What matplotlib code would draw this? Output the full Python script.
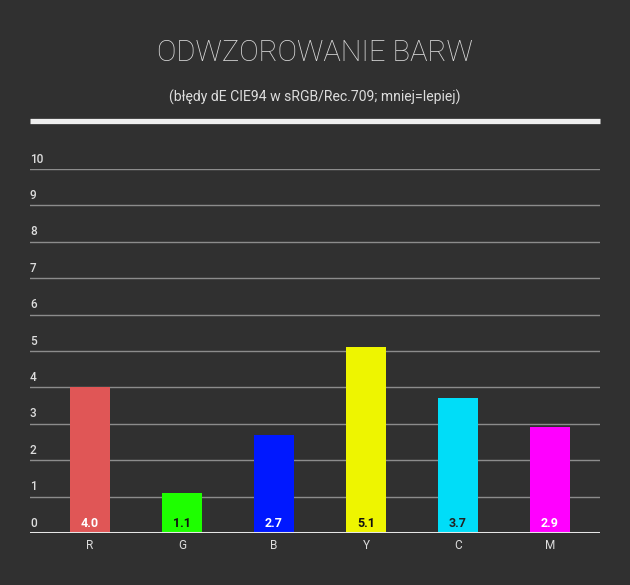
"""Colour reproduction chart: dE CIE94 errors per primary/secondary colour"""

import numpy as np
import matplotlib.pyplot as plt
from matplotlib.transforms import blended_transform_factory, offset_copy

plt.rcParams["font.family"] = ["Roboto", "DejaVu Sans"]

categories = ["R", "G", "B", "Y", "C", "M"]
errors = [4.0, 1.1, 2.7, 5.1, 3.7, 2.9]
bar_colors = ["#e05656", "#1eff00", "#0018ff", "#eef500", "#00ddf8", "#ff00ff"]
label_colors = ["#ffffff", "#111111", "#ffffff", "#111111", "#222222", "#ffffff"]
y_ticks = list(range(0, 11))

BG = "#303030"
TXT = "#dddddd"


def main():
    fig = plt.figure(figsize=(6.3, 5.85), dpi=100, facecolor=BG)
    ax = fig.add_axes([30 / 630, 52 / 585, 570 / 630, 364 / 585])
    ax.set_facecolor(BG)

    x = np.arange(len(categories))
    ax.set_xlim(-0.652, 5.543)
    ax.set_ylim(0, 10)

    # gridlines and tick labels sitting above them
    trans = blended_transform_factory(ax.transAxes, ax.transData)
    lab_trans = offset_copy(trans, fig=fig, x=0, y=2.5, units="points")
    for t in y_ticks:
        if t > 0:
            ax.axhline(t, color="#8c8c8c", lw=1.0, zorder=1)
        ax.text(0.0, t, str(t), transform=lab_trans, color=TXT,
                fontsize=8.5, fontweight="medium", ha="left", va="bottom")

    ax.bar(x, errors, width=0.435, color=bar_colors, zorder=2)
    ax.axhline(0, color="#e6e6e6", lw=2.2, zorder=3)

    val_trans = offset_copy(ax.transData, fig=fig, x=0, y=2.5, units="points")
    for xi, v, c in zip(x, errors, label_colors):
        ax.text(xi, 0, f"{v:.1f}", transform=val_trans, color=c,
                fontsize=9, fontweight="bold", ha="center", va="bottom",
                zorder=4)

    ax.set_xticks(x)
    ax.set_xticklabels(categories, color=TXT, fontsize=8.5)
    ax.tick_params(axis="x", length=0, pad=4)
    ax.set_yticks([])
    for s in ax.spines.values():
        s.set_visible(False)

    fig.text(0.5, 1 - 53 / 585, "ODWZOROWANIE BARW", color=TXT,
             fontsize=21, fontweight="light", ha="center", va="center")
    fig.text(0.5, 1 - 97 / 585, "(błędy dE CIE94 w sRGB/Rec.709; mniej=lepiej)",
             color=TXT, fontsize=10.1, ha="center", va="center")
    fig.add_artist(plt.Line2D([30 / 630, 600 / 630], [1 - 121 / 585] * 2,
                              color="#eeeeee", lw=3.8, solid_capstyle="butt",
                              transform=fig.transFigure))

    fig.savefig("out.png", facecolor=BG)


if __name__ == '__main__':
    main()
